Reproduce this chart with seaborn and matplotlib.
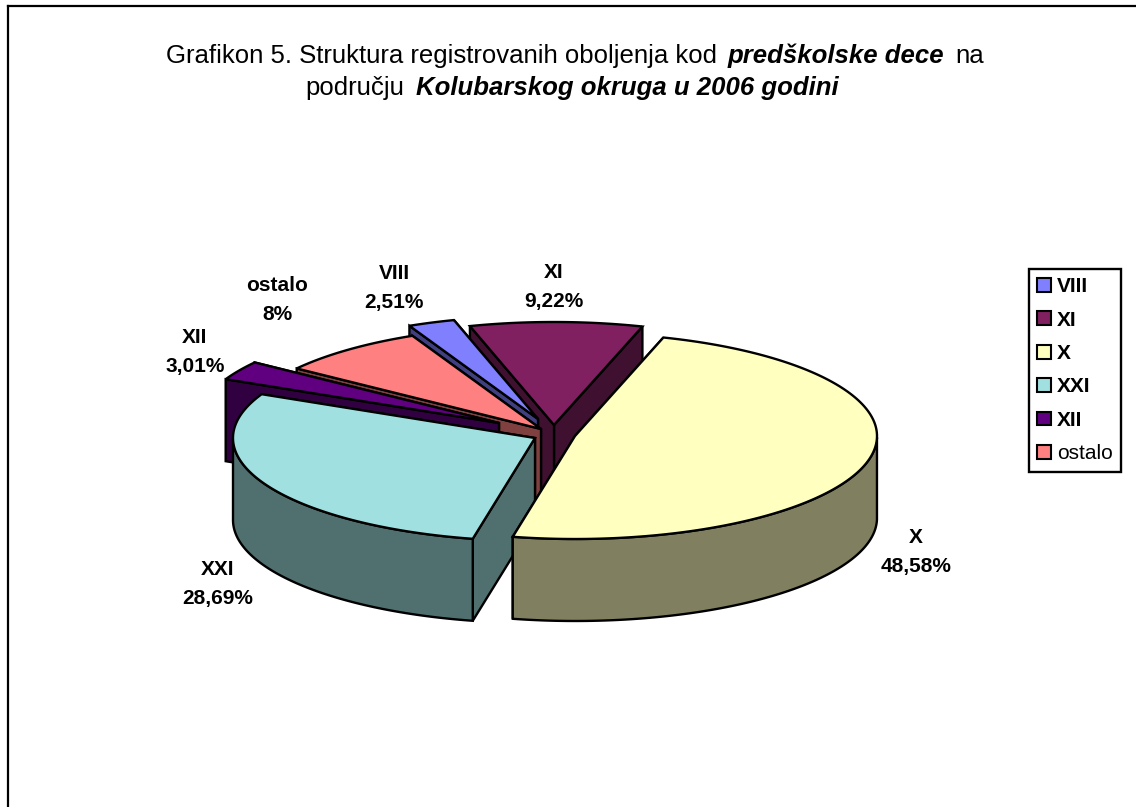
import numpy as np
import matplotlib
matplotlib.use("Agg")
import matplotlib.pyplot as plt
from matplotlib.patches import Patch
import seaborn as sns

# Share of registered illnesses, in percent.
categories = ["VIII", "XI", "X", "XXI", "XII", "ostalo"]
shares = [2.51, 9.22, 48.58, 28.69, 3.01, 8.0]
value_labels = ["2,51%", "9,22%", "48,58%", "28,69%", "3,01%", "8%"]
top_colors = ["#8080FF", "#802060", "#FFFFC0", "#A0E0E0", "#600080", "#FF8080"]

title_line1 = [("Grafikon 5. Struktura registrovanih oboljenja kod", False),
               ("predškolske dece", True), ("na", False)]
title_line2 = [("području", False), ("Kolubarskog okruga u 2006 godini", True)]

sns.set_theme(style="white")
plt.rcParams['font.family'] = ['Liberation Sans', 'DejaVu Sans']
plt.rcParams['text.color'] = "black"
palette = sns.color_palette(top_colors)

fig = plt.figure(figsize=(11.36, 8.07), dpi=100)
# Axes in image pixels: its left and top spines are the chart frame.
ax = fig.add_axes([8 / 1136, 0, 1128 / 1136, 801 / 807])
ax.set_xlim(8, 1136)
ax.set_ylim(807, 6)
ax.set_xticks([])
ax.set_yticks([])
for side in ["right", "bottom"]:
    ax.spines[side].set_visible(False)
for side in ["left", "top"]:
    ax.spines[side].set_color("black")
    ax.spines[side].set_linewidth(1.6)

# Exploded 3D look: flat ellipse, each slice has its own centre.
rx, ry, depth = 302, 103, 82
start_angle = 115.2
centers = {"VIII": (538, 419), "XI": (554, 425), "X": (575, 436),
           "XXI": (535, 438), "XII": (499, 423), "ostalo": (541, 429)}
label_pos = {"VIII": (394, 288), "XI": (554, 287), "X": (916, 552),
             "XXI": (218, 584), "XII": (195, 352), "ostalo": (277, 300)}

edges = np.cumsum([0] + shares) / np.sum(shares) * 360
angles = {}
for i, name in enumerate(categories):
    angles[name] = (start_angle - edges[i], start_angle - edges[i + 1])

line_style = dict(edgecolor="black", linewidth=1.7, joinstyle="miter")


def draw_slice(name):
    i = categories.index(name)
    cx, cy = centers[name]
    a0, a1 = angles[name]
    t = np.radians(np.linspace(a0, a1, 200))
    x = cx + rx * np.cos(t)
    y = cy - ry * np.sin(t)
    side = tuple(c * 0.5 for c in palette[i])
    # Two cut faces first (far one before near one), then the rim, then the top.
    for px, py in [(x[-1], y[-1]), (x[0], y[0])]:
        ax.fill([cx, px, px, cx], [cy, py, py + depth, cy + depth],
                facecolor=side, **line_style)
    front = np.sin(t) <= 0
    if front.any():
        fx, fy = x[front], y[front]
        ax.fill(np.r_[fx, fx[::-1]], np.r_[fy, fy[::-1] + depth],
                facecolor=side, **line_style)
    ax.fill(np.r_[cx, x], np.r_[cy, y], facecolor=palette[i], **line_style)


for name in ["XI", "VIII", "ostalo", "XII", "XXI", "X"]:
    draw_slice(name)

for name, val in zip(categories, value_labels):
    lx, ly = label_pos[name]
    ax.text(lx, ly, name + "\n" + val, ha="center", va="center", fontsize=15,
            fontweight="bold", linespacing=1.62)


def draw_title_line(parts, xc, y, gap=11):
    # Mixed regular and bold italic pieces, centred together on xc.
    renderer = fig.canvas.get_renderer()
    items = []
    for txt, strong in parts:
        items.append(ax.text(0, y, txt, fontsize=18.55, va="center", ha="left",
                             fontweight="bold" if strong else "normal",
                             fontstyle="italic" if strong else "normal"))
    widths = [it.get_window_extent(renderer).width for it in items]
    pos = xc - (sum(widths) + gap * (len(items) - 1)) / 2
    for it, w in zip(items, widths):
        it.set_x(pos)
        pos += w + gap


draw_title_line(title_line1, 575, 56)
draw_title_line(title_line2, 572, 88)

handles = [Patch(facecolor=c, edgecolor="black", linewidth=1.5) for c in palette]
leg = ax.legend(handles, categories, loc="upper left", bbox_to_anchor=(1029, 269),
                bbox_transform=ax.transData, borderaxespad=0, fancybox=False,
                framealpha=1, edgecolor="black", fontsize=15, handlelength=0.65,
                handleheight=0.65, handletextpad=0.3, labelspacing=0.69,
                borderpad=0.4)
leg.get_frame().set_linewidth(1.7)
for text in leg.get_texts():
    text.set_color("black")
    if text.get_text() != "ostalo":
        text.set_fontweight("bold")

fig.savefig("out.png", dpi=100)
